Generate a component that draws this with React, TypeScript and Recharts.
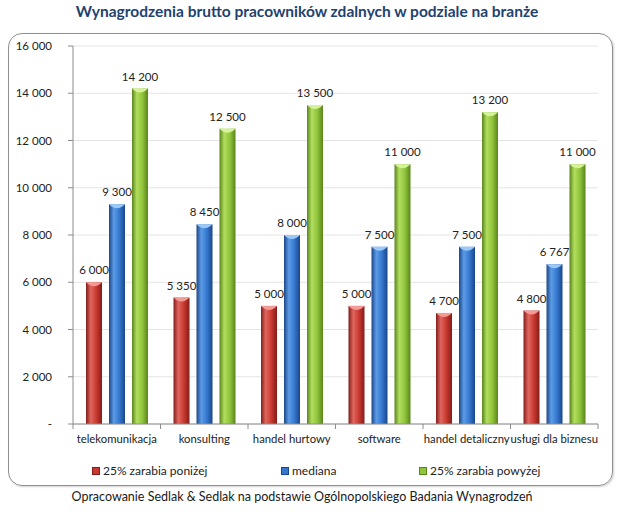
import React from 'react';
import { Bar, BarChart, CartesianGrid, LabelList, XAxis, YAxis } from 'recharts';

const categories = ['telekomunikacja', 'konsulting', 'handel hurtowy', 'software', 'handel detaliczny', 'usługi dla biznesu'];
const lowQuartile = [6000, 5350, 5000, 5000, 4700, 4800];
const median = [9300, 8450, 8000, 7500, 7500, 6767];
const highQuartile = [14200, 12500, 13500, 11000, 13200, 11000];
const yTicks = [0, 2000, 4000, 6000, 8000, 10000, 12000, 14000, 16000];

const seriesNames = ['25% zarabia poniżej', 'mediana', '25% zarabia powyżej'];

const data = categories.map((c, i) => ({
  category: c,
  low: lowQuartile[i],
  median: median[i],
  high: highQuartile[i],
}));

const FONT = 'Lato, "Open Sans", sans-serif';
const PLOT_LEFT = 73;
const PLOT_RIGHT = 598;
const BAND = (PLOT_RIGHT - PLOT_LEFT) / categories.length;

const palette = {
  red: { dark: '#831d1a', light: '#e0675f', mid: '#c8382f', cap: '#f39a94' },
  blue: { dark: '#1b4688', light: '#5c9ce6', mid: '#3577cf', cap: '#9cc8f6' },
  green: { dark: '#5a841c', light: '#b2de5e', mid: '#8fc43c', cap: '#d4f29a' },
};

const fmt = (v: number) => String(v).replace(/\B(?=(\d{3})+(?!\d))/g, ' ');

const Cylinder = (props: any) => {
  const { x, y, width: w, height: h, tone } = props;
  if (!h || h <= 0) return null;
  const c = (palette as any)[tone];
  return (
    <g>
      <rect x={x} y={y} width={w} height={h} fill={`url(#grad-${tone})`} />
      <path d={`M${x},${y} L${x + w},${y} Q${x + w / 2},${y + 8} ${x},${y} Z`} fill={c.cap} />
    </g>
  );
};

const ValueLabel = (props: any) => {
  const { x, y, width, value } = props;
  return (
    <text x={x + width / 2} y={y - 8} textAnchor="middle" fontSize={11.5} fill="#222" fontFamily={FONT}>
      {fmt(value)}
    </text>
  );
};

const CategoryTick = ({ x, y, payload, index }: any) => {
  const last = index === categories.length - 1;
  return (
    <g>
      <line x1={x - BAND / 2} x2={x - BAND / 2} y1={y} y2={y + 5} stroke="#8c8c8c" />
      {last && <line x1={x + BAND / 2} x2={x + BAND / 2} y1={y} y2={y + 5} stroke="#8c8c8c" />}
      <text x={x} y={y + 16} textAnchor="middle" dominantBaseline="middle" fontSize={11.3} fill="#222" fontFamily={FONT}>
        {payload.value}
      </text>
    </g>
  );
};

const LegendItem = ({ left, tone, label }: { left: number; tone: string; label: string }) => {
  const c = (palette as any)[tone];
  return (
    <div style={{ position: 'absolute', left, top: 463, display: 'flex', alignItems: 'center', fontSize: 12, color: '#222' }}>
      <span style={{ width: 6, height: 6, background: c.mid, border: `1px solid ${c.dark}`, marginRight: 3 }} />
      <span>{label}</span>
    </div>
  );
};

export default function App() {
  const tones = ['red', 'blue', 'green'];
  return (
    <div style={{ position: 'absolute', left: 0, top: 0, width: 620, height: 527, background: '#fff', fontFamily: FONT }}>
      <div style={{ position: 'absolute', left: 0, width: 614, top: 2, textAlign: 'center', fontSize: 15.5, fontWeight: 700, color: '#1f426f' }}>
        Wynagrodzenia brutto pracowników zdalnych w podziale na branże
      </div>
      <div style={{
        position: 'absolute', left: 8, top: 33, width: 603, height: 451,
        border: '1px solid #8f8f8f', borderRadius: 14, boxShadow: '1px 1px 2px rgba(0,0,0,0.18)',
      }} />
      <div style={{ position: 'absolute', left: 0, top: 0 }}>
        <BarChart
          width={620}
          height={527}
          data={data}
          margin={{ top: 46, right: 620 - PLOT_RIGHT, bottom: 83, left: PLOT_LEFT - 60 }}
          barSize={16}
          barGap={7}
        >
          <defs>
            {tones.map((t) => {
              const c = (palette as any)[t];
              return (
                <linearGradient key={t} id={`grad-${t}`} x1="0" y1="0" x2="1" y2="0">
                  <stop offset="0%" stopColor={c.dark} />
                  <stop offset="30%" stopColor={c.light} />
                  <stop offset="65%" stopColor={c.mid} />
                  <stop offset="100%" stopColor={c.dark} />
                </linearGradient>
              );
            })}
          </defs>
          <CartesianGrid vertical={false} stroke="#e4e4e4" />
          <XAxis
            dataKey="category"
            interval={0}
            height={20}
            tickSize={0}
            tickMargin={0}
            tick={<CategoryTick />}
            axisLine={{ stroke: '#8c8c8c' }}
          />
          <YAxis
            width={60}
            domain={[0, 16000]}
            ticks={yTicks}
            tickSize={5}
            tickMargin={16}
            tickFormatter={(v: number) => (v === 0 ? '-' : fmt(v))}
            tick={{ fill: '#222', fontSize: 11.5, fontFamily: FONT }}
            axisLine={{ stroke: '#8c8c8c' }}
            tickLine={{ stroke: '#8c8c8c' }}
          />
          <Bar dataKey="low" name={seriesNames[0]} isAnimationActive={false} shape={(p: any) => <Cylinder {...p} tone="red" />}>
            <LabelList dataKey="low" content={<ValueLabel />} />
          </Bar>
          <Bar dataKey="median" name={seriesNames[1]} isAnimationActive={false} shape={(p: any) => <Cylinder {...p} tone="blue" />}>
            <LabelList dataKey="median" content={<ValueLabel />} />
          </Bar>
          <Bar dataKey="high" name={seriesNames[2]} isAnimationActive={false} shape={(p: any) => <Cylinder {...p} tone="green" />}>
            <LabelList dataKey="high" content={<ValueLabel />} />
          </Bar>
        </BarChart>
      </div>
      <LegendItem left={92} tone="red" label={seriesNames[0]} />
      <LegendItem left={281} tone="blue" label={seriesNames[1]} />
      <LegendItem left={419} tone="green" label={seriesNames[2]} />
      <div style={{ position: 'absolute', left: 0, width: 604, top: 489, textAlign: 'center', fontSize: 12.5, color: '#1a1a1a' }}>
        Opracowanie Sedlak &amp; Sedlak na podstawie Ogólnopolskiego Badania Wynagrodzeń
      </div>
    </div>
  );
}
